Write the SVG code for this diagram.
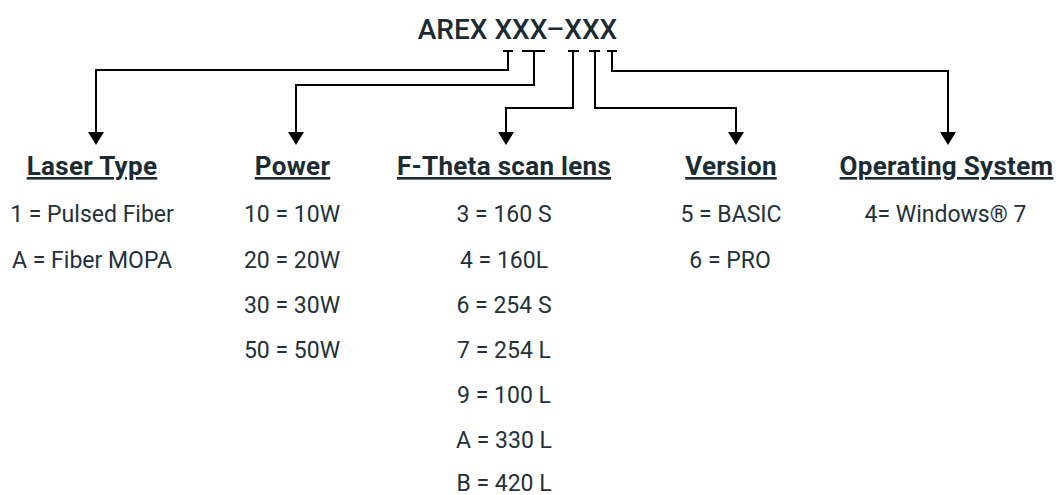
<svg xmlns="http://www.w3.org/2000/svg" width="1059" height="495" viewBox="0 0 1059 495">
  <style>
    .title { font-family: Roboto, "Liberation Sans", sans-serif; font-size: 28px; font-weight: 500; fill: #1b2b33; text-anchor: middle; }
    .hdr { font-family: Roboto, "Liberation Sans", sans-serif; font-size: 26px; font-weight: 700; fill: #1b2b33; text-anchor: middle; text-decoration: underline; letter-spacing: 0.3px; }
    .item { font-family: Roboto, "Liberation Sans", sans-serif; font-size: 23px; font-weight: 400; fill: #22313a; text-anchor: middle; }
    .conn { fill: none; stroke: #000; stroke-width: 2; }
    .cap { fill: none; stroke: #000; stroke-width: 2; }
  </style>
  <defs>
    <marker id="arrow" viewBox="0 0 13 16" refX="1" refY="8" markerWidth="13" markerHeight="16" markerUnits="userSpaceOnUse" orient="auto">
      <path d="M0,0 L13,8 L0,16 z" fill="#000"/>
    </marker>
  </defs>
  <rect width="1059" height="495" fill="#fff"/>

  <g id="title">
    <text class="title" x="517.5" y="39">AREX XXX–XXX</text>
  </g>

  <g id="connectors">
    <path class="cap" d="M503,51 H513 M522,51 H545 M568,51 H579 M589,51 H600 M607,51 H617"/>
    <path class="conn" d="M508,51 V70 H96 V133" marker-end="url(#arrow)"/>
    <path class="conn" d="M534,51 V85 H296 V133" marker-end="url(#arrow)"/>
    <path class="conn" d="M573,51 V108 H506 V133" marker-end="url(#arrow)"/>
    <path class="conn" d="M595,51 V108 H736 V133" marker-end="url(#arrow)"/>
    <path class="conn" d="M612,51 V71 H948 V133" marker-end="url(#arrow)"/>
  </g>

  <g id="laser-type">
    <text class="hdr" x="92" y="175">Laser Type</text>
    <text class="item" x="92" y="222">1 = Pulsed Fiber</text>
    <text class="item" x="92" y="268">A = Fiber MOPA</text>
  </g>

  <g id="power">
    <text class="hdr" x="292.5" y="175">Power</text>
    <text class="item" x="292" y="222">10 = 10W</text>
    <text class="item" x="292" y="268">20 = 20W</text>
    <text class="item" x="292" y="313">30 = 30W</text>
    <text class="item" x="292" y="358">50 = 50W</text>
  </g>

  <g id="f-theta">
    <text class="hdr" x="504" y="175">F-Theta scan lens</text>
    <text class="item" x="504" y="222">3 = 160 S</text>
    <text class="item" x="504" y="268">4 = 160L</text>
    <text class="item" x="504" y="313">6 = 254 S</text>
    <text class="item" x="504" y="358">7 = 254 L</text>
    <text class="item" x="504" y="403">9 = 100 L</text>
    <text class="item" x="504" y="448">A = 330 L</text>
    <text class="item" x="504" y="491">B = 420 L</text>
  </g>

  <g id="version">
    <text class="hdr" x="731" y="175">Version</text>
    <text class="item" x="731" y="222">5 = BASIC</text>
    <text class="item" x="730" y="268">6 = PRO</text>
  </g>

  <g id="operating-system">
    <text class="hdr" x="946.5" y="175">Operating System</text>
    <text class="item" x="945.5" y="222">4= Windows® 7</text>
  </g>
</svg>
